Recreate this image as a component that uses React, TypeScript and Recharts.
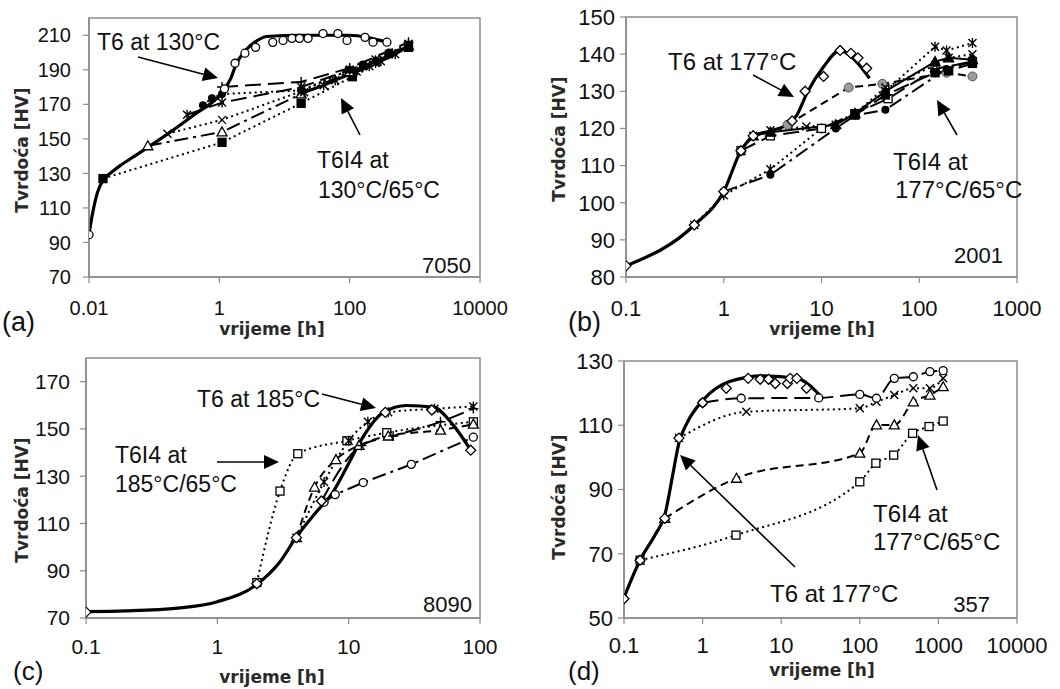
import React from "react";
import { ComposedChart, Line, XAxis, YAxis, ReferenceArea } from "recharts";

const SANS = "'Liberation Sans', Arial, sans-serif";
const BOLD = "'DejaVu Sans', Verdana, sans-serif";
const INK = "#000";
const AXIS = "#8c8c8c";

// ---------- (a) 7050, T6 at 130°C ----------
const aXTicks = [0.01, 1, 100, 10000];
const aYTicks = [70, 90, 110, 130, 150, 170, 190, 210];
const aT6CurveT = [0.01, 0.0115, 0.0135, 0.0164, 0.022, 0.03, 0.05, 0.1, 0.4, 1.1, 1.5, 1.8, 2.5, 3.5, 5.3, 17, 100, 200, 370];
const aT6CurveHv = [95, 108, 119, 126, 130.5, 134.5, 140, 147.5, 163.7, 177, 185, 193, 201, 206, 209.3, 210, 210, 208.5, 206];
const aT6MarkT = [0.01, 1.2, 1.74, 2.47, 3.6, 6.6, 9.5, 13, 17, 23, 39, 66, 91, 172, 228, 373];
const aT6MarkHv = [94.5, 179, 193.8, 199.6, 203, 205.9, 207, 208.2, 208.2, 208.2, 211, 211, 207, 208.8, 206, 206];
const aSqT = [0.0164, 1.1, 18, 110, 800];
const aSqHv = [127, 148, 170.6, 186, 203];
const aTriT = [0.08, 1.1, 18, 100, 250, 800];
const aTriHv = [146, 154, 176, 189, 195, 204];
const aXT = [0.16, 1.1, 18, 100, 250, 800];
const aXHv = [153, 161, 177.5, 190, 196, 205];
const aStarT = [0.32, 1.1, 18, 100, 160, 250, 400, 800];
const aStarHv = [164, 171, 180, 190, 192, 194, 199, 205];
const aPlusT = [1.1, 18, 100, 800];
const aPlusHv = [180, 183, 191, 206];
const aDotT = [0.56, 0.77, 1.1, 18, 100, 160, 250, 400, 800];
const aDotHv = [169.5, 173.5, 176, 178, 190, 193, 195, 200, 203];
const aBandT = [20, 40, 60, 128, 200, 300, 500, 800];
const aBandHv = [177, 181, 184, 189, 192, 195, 199, 204];

// ---------- (b) 2001, T6 at 177°C ----------
const bXTicks = [0.1, 1, 10, 100, 1000];
const bYTicks = [80, 90, 100, 110, 120, 130, 140, 150];
const bT6CurveT = [0.1, 0.5, 1, 1.5, 2, 3, 4.4, 5.6, 7.1, 10.5, 15.5, 21, 31];
const bT6CurveHv = [83, 94, 103, 114, 117.8, 119.3, 121, 123.6, 129.5, 136.6, 141, 138.9, 133.5];
const bT6MarkT = [0.1, 0.5, 1, 1.5, 2, 5, 6.8, 10.5, 15.5, 20, 23.6, 29];
const bT6MarkHv = [83, 94, 103, 114, 118, 122, 130, 134, 141, 140.2, 139, 136.2];
const bGrayT = [4.5, 19, 42, 190, 350];
const bGrayHv = [121, 131, 132, 135, 134];
const bStarT = [0.5, 1, 3, 10, 22, 45, 145, 190, 350];
const bStarHv = [94, 102, 109, 120, 124, 130, 142, 141, 143];
const bDotT = [1, 3, 14, 22, 45, 190, 350];
const bDotHv = [103, 107.5, 120, 123.5, 125, 136, 138];
const bSqT = [1.5, 3, 10, 22, 48, 145, 350];
const bSqHv = [114, 118, 120, 124, 128, 136, 138];
const bTriT = [2, 3, 14, 22, 45, 145, 200, 350];
const bTriHv = [118, 119, 121, 124, 130, 138, 139, 138.5];
const bXT = [2, 3, 7, 14, 22, 45, 145, 200, 350];
const bXHv = [118, 119.5, 120.5, 121, 124, 131, 137, 139, 140];
const bSqFillT = [22, 45, 145, 200, 350];
const bSqFillHv = [123.6, 129, 135, 135.5, 137.5];

// ---------- (c) 8090, T6 at 185°C ----------
const cXTicks = [0.1, 1, 10, 100];
const cYTicks = [70, 90, 110, 130, 150, 170];
const cT6CurveT = [0.1, 0.2, 0.5, 1, 2, 3, 4, 5.5, 7.6, 10, 12.2, 18.4, 27.6, 44, 63, 85];
const cT6CurveHv = [72.7, 73, 74.2, 76.9, 84.2, 93.8, 104.3, 114, 123.3, 135.4, 144.5, 157, 159.9, 159.2, 151.4, 141];
const cT6MarkT = [0.1, 2, 4, 6.2, 19, 43, 85];
const cT6MarkHv = [72.5, 84.5, 104, 119.5, 157, 158, 141];
const cSqT = [2, 3, 4.1, 9.7, 19.5, 89];
const cSqHv = [85, 123.7, 139.5, 145, 148.4, 153];
const cXT = [4, 6.5, 10, 14, 20, 45, 89];
const cXHv = [104, 127.5, 145, 153, 157, 158.5, 159.5];
const cTriT = [4, 5.5, 8, 12, 20, 50, 89];
const cTriHv = [104, 125.4, 137, 143, 147, 149.5, 152];
const cCircT = [6.5, 7.9, 12.9, 30, 89];
const cCircHv = [119, 122.2, 127.3, 135, 146.5];
const cPlusT = [6.2, 12.5, 21.8, 50, 89];
const cPlusHv = [119.4, 143, 147, 153, 158.6];

// ---------- (d) 357, T6 at 177°C ----------
const dXTicks = [0.1, 1, 10, 100, 1000, 10000];
const dYTicks = [50, 70, 90, 110, 130];
const dT6CurveT = [0.1, 0.16, 0.25, 0.33, 0.42, 0.5, 0.63, 1.02, 2.2, 5.9, 15.8, 31];
const dT6CurveHv = [56.4, 68, 76, 82, 95, 104.5, 110.6, 117.9, 123.6, 125.4, 124.6, 119.4];
const dT6MarkT = [0.1, 0.16, 0.33, 0.5, 1, 2, 3.8, 5.4, 6.9, 8.4, 12, 13, 15.8, 21];
const dT6MarkHv = [56, 68, 81, 106, 117, 121.5, 124.6, 124.3, 124.3, 123, 123, 124.6, 124.6, 121.5];
const dSqT = [0.16, 2.66, 100, 160, 270, 470, 760, 1150];
const dSqHv = [68, 75.8, 92.4, 98.2, 100.7, 107.5, 109.6, 111.3];
const dTriT = [0.33, 2.7, 100, 163, 275, 480, 780, 1150];
const dTriHv = [81, 93.5, 101.3, 110.1, 110.1, 117.3, 119.4, 122];
const dXT = [0.5, 3.6, 100, 163, 275, 480, 780, 1150];
const dXHv = [106, 114.2, 115.3, 117.3, 119.4, 121.5, 121.5, 124.6];
const dCircT = [1, 3.1, 30, 100, 163, 275, 480, 780, 1150];
const dCircHv = [117, 118.4, 118.5, 119.6, 118.4, 124.6, 125.1, 126.7, 127];

const DOTTED = "2 3.5";
const DASHED = "8 5";
const LONGDASH = "16 7";
const DASHDOT = "14 5 3 5";

type Kind =
  | "circle" | "circleFill" | "circleGray" | "diamond" | "diamondFill"
  | "square" | "squareFill" | "triangle" | "triangleFill" | "x" | "plus" | "star" | "none";

type Series = {
  t: number[];
  hv: number[];
  dash?: string;
  width?: number;
  marker?: Kind;
  noLine?: boolean;
  curve?: "monotone" | "linear";
};

function Marker({ cx, cy, kind }: { cx?: number; cy?: number; kind: Kind }) {
  if (cx == null || cy == null || Number.isNaN(cx) || Number.isNaN(cy)) return null;
  const sw = 1.3;
  switch (kind) {
    case "circle":
      return <circle cx={cx} cy={cy} r={4} fill="#fff" stroke={INK} strokeWidth={sw} />;
    case "circleFill":
      return <circle cx={cx} cy={cy} r={4} fill={INK} />;
    case "circleGray":
      return <circle cx={cx} cy={cy} r={4.5} fill="#9c9c9c" stroke="#555" strokeWidth={1} />;
    case "diamond":
    case "diamondFill":
      return (
        <polygon
          points={`${cx},${cy - 5} ${cx + 5},${cy} ${cx},${cy + 5} ${cx - 5},${cy}`}
          fill={kind === "diamond" ? "#fff" : "#1b1b3a"}
          stroke={INK}
          strokeWidth={sw}
        />
      );
    case "square":
    case "squareFill":
      return (
        <rect x={cx - 4} y={cy - 4} width={8} height={8}
          fill={kind === "square" ? "#fff" : INK} stroke={INK} strokeWidth={sw} />
      );
    case "triangle":
    case "triangleFill":
      return (
        <polygon
          points={`${cx},${cy - 5} ${cx + 5},${cy + 4} ${cx - 5},${cy + 4}`}
          fill={kind === "triangle" ? "#fff" : INK}
          stroke={INK}
          strokeWidth={sw}
        />
      );
    case "x":
      return <path d={`M${cx - 4},${cy - 4}L${cx + 4},${cy + 4}M${cx + 4},${cy - 4}L${cx - 4},${cy + 4}`} stroke={INK} strokeWidth={1.4} />;
    case "plus":
      return <path d={`M${cx - 5},${cy}L${cx + 5},${cy}M${cx},${cy - 5}L${cx},${cy + 5}`} stroke={INK} strokeWidth={1.4} />;
    case "star":
      return (
        <path
          d={`M${cx - 4},${cy - 4}L${cx + 4},${cy + 4}M${cx + 4},${cy - 4}L${cx - 4},${cy + 4}M${cx},${cy - 5}L${cx},${cy + 5}`}
          stroke={INK}
          strokeWidth={1.4}
        />
      );
    default:
      return null;
  }
}

type PanelProps = {
  left: number;
  top: number;
  width: number;
  height: number;
  margin: { top: number; right: number; bottom: number; left: number };
  yWidth: number;
  xHeight: number;
  xDomain: [number, number];
  xTicks: number[];
  yDomain: [number, number];
  yTicks: number[];
  fontSize: number;
  yTickMargin: number;
  xTickMargin: number;
  series: Series[];
};

function Panel(p: PanelProps) {
  const tick = { fill: "#111", fontSize: p.fontSize, fontFamily: SANS };
  return (
    <div style={{ position: "absolute", left: p.left, top: p.top }}>
      <ComposedChart width={p.width} height={p.height} margin={p.margin}>
        <XAxis
          dataKey="t"
          type="number"
          scale="log"
          domain={p.xDomain}
          ticks={p.xTicks}
          allowDataOverflow
          height={p.xHeight}
          tick={tick}
          tickSize={6}
          tickMargin={p.xTickMargin}
          axisLine={{ stroke: AXIS, strokeWidth: 1.5 }}
          tickLine={{ stroke: AXIS, strokeWidth: 1.2 }}
        />
        <YAxis
          dataKey="hv"
          type="number"
          domain={p.yDomain}
          ticks={p.yTicks}
          allowDataOverflow
          width={p.yWidth}
          tick={tick}
          tickSize={6}
          tickMargin={p.yTickMargin}
          axisLine={{ stroke: AXIS, strokeWidth: 1.5 }}
          tickLine={{ stroke: AXIS, strokeWidth: 1.2 }}
        />
        <ReferenceArea
          x1={p.xDomain[0]}
          x2={p.xDomain[1]}
          y1={p.yDomain[0]}
          y2={p.yDomain[1]}
          fill="none"
          fillOpacity={0}
          stroke={AXIS}
          strokeWidth={1.5}
          ifOverflow="visible"
        />
        {p.series.map((s, si) => {
          const rows = s.t.map((t, i) => ({ t, hv: s.hv[i] }));
          const kind = s.marker ?? "none";
          return (
            <Line
              key={si}
              data={rows}
              dataKey="hv"
              type={s.curve ?? "monotone"}
              stroke={s.noLine ? "none" : INK}
              strokeWidth={s.width ?? 2}
              strokeDasharray={s.dash}
              dot={
                kind === "none"
                  ? false
                  : (d: any) => <Marker key={`m${si}-${d.index}`} cx={d.cx} cy={d.cy} kind={kind} />
              }
              activeDot={false}
              isAnimationActive={false}
            />
          );
        })}
      </ComposedChart>
    </div>
  );
}

function Arrow({ x1, y1, x2, y2 }: { x1: number; y1: number; x2: number; y2: number }) {
  const dx = x2 - x1;
  const dy = y2 - y1;
  const len = Math.hypot(dx, dy);
  const ux = dx / len;
  const uy = dy / len;
  const hl = 15;
  const hw = 7;
  const bx = x2 - ux * hl;
  const by = y2 - uy * hl;
  return (
    <g>
      <line x1={x1} y1={y1} x2={bx} y2={by} stroke={INK} strokeWidth={1.6} />
      <polygon
        points={`${x2},${y2} ${bx - uy * hw},${by + ux * hw} ${bx + uy * hw},${by - ux * hw}`}
        fill={INK}
      />
    </g>
  );
}

function Note({ x, y, size = 23, anchor = "start", children }: any) {
  return (
    <text x={x} y={y} fontSize={size} fontFamily={SANS} fill="#111" textAnchor={anchor}>
      {children}
    </text>
  );
}

function YTitle({ x, y }: { x: number; y: number }) {
  return (
    <text
      x={x}
      y={y}
      transform={`rotate(-90 ${x} ${y})`}
      textAnchor="middle"
      dominantBaseline="central"
      fontSize={17}
      fontWeight="bold"
      fontFamily={BOLD}
      fill="#2a2a2a"
    >
      Tvrdoća [HV]
    </text>
  );
}

function XTitle({ x, y }: { x: number; y: number }) {
  return (
    <text x={x} y={y} textAnchor="middle" fontSize={17} fontWeight="bold" fontFamily={BOLD} fill="#2a2a2a">
      vrijeme [h]
    </text>
  );
}

const seriesA: Series[] = [
  { t: aSqT, hv: aSqHv, dash: DOTTED, marker: "squareFill", curve: "linear" },
  { t: aTriT, hv: aTriHv, dash: DASHDOT, marker: "triangle", curve: "linear" },
  { t: aXT, hv: aXHv, dash: DOTTED, marker: "x", curve: "linear" },
  { t: aStarT, hv: aStarHv, dash: LONGDASH, marker: "star", curve: "linear" },
  { t: aPlusT, hv: aPlusHv, dash: LONGDASH, marker: "plus", curve: "linear" },
  { t: aDotT, hv: aDotHv, dash: DOTTED, marker: "circleFill", curve: "linear" },
  { t: aBandT, hv: aBandHv, width: 3, marker: "star", curve: "linear" },
  { t: aT6CurveT, hv: aT6CurveHv, width: 3.2 },
  { t: aT6MarkT, hv: aT6MarkHv, noLine: true, marker: "circle" },
];

const seriesB: Series[] = [
  { t: bGrayT, hv: bGrayHv, dash: DASHED, marker: "circleGray", curve: "linear" },
  { t: bStarT, hv: bStarHv, dash: DOTTED, marker: "star", curve: "linear" },
  { t: bDotT, hv: bDotHv, dash: DASHDOT, marker: "circleFill", curve: "linear" },
  { t: bSqT, hv: bSqHv, dash: LONGDASH, marker: "square", curve: "linear" },
  { t: bTriT, hv: bTriHv, marker: "triangleFill", curve: "linear" },
  { t: bXT, hv: bXHv, dash: DOTTED, marker: "x", curve: "linear" },
  { t: bSqFillT, hv: bSqFillHv, dash: LONGDASH, marker: "squareFill", curve: "linear" },
  { t: bT6CurveT, hv: bT6CurveHv, width: 3.2 },
  { t: bT6MarkT, hv: bT6MarkHv, noLine: true, marker: "diamond" },
];

const seriesC: Series[] = [
  { t: cSqT, hv: cSqHv, dash: DOTTED, marker: "square" },
  { t: cXT, hv: cXHv, dash: DOTTED, marker: "star" },
  { t: cTriT, hv: cTriHv, dash: DASHED, marker: "triangle" },
  { t: cCircT, hv: cCircHv, dash: DASHDOT, marker: "circle", curve: "linear" },
  { t: cPlusT, hv: cPlusHv, dash: LONGDASH, marker: "plus" },
  { t: cT6CurveT, hv: cT6CurveHv, width: 3.2 },
  { t: cT6MarkT, hv: cT6MarkHv, noLine: true, marker: "diamond" },
];

const seriesD: Series[] = [
  { t: dSqT, hv: dSqHv, dash: DOTTED, marker: "square" },
  { t: dTriT, hv: dTriHv, dash: DASHED, marker: "triangle" },
  { t: dXT, hv: dXHv, dash: DOTTED, marker: "x" },
  { t: dCircT, hv: dCircHv, dash: LONGDASH, marker: "circle" },
  { t: dT6CurveT, hv: dT6CurveHv, width: 3.2 },
  { t: dT6MarkT, hv: dT6MarkHv, noLine: true, marker: "diamond" },
];

export default function App() {
  return (
    <div style={{ position: "absolute", left: 0, top: 0, width: 1060, height: 689, background: "#fff", overflow: "hidden" }}>
      <Panel
        left={0} top={0} width={530} height={345}
        margin={{ top: 18, right: 50, bottom: 0, left: 0 }}
        yWidth={89} xHeight={68}
        xDomain={[0.01, 10000]} xTicks={aXTicks}
        yDomain={[70, 220]} yTicks={aYTicks}
        fontSize={20} yTickMargin={12} xTickMargin={18}
        series={seriesA}
      />
      <Panel
        left={530} top={0} width={530} height={345}
        margin={{ top: 17, right: 43, bottom: 0, left: 0 }}
        yWidth={96} xHeight={68}
        xDomain={[0.1, 1000]} xTicks={bXTicks}
        yDomain={[80, 150]} yTicks={bYTicks}
        fontSize={22} yTickMargin={5} xTickMargin={17}
        series={seriesB}
      />
      <Panel
        left={0} top={345} width={530} height={344}
        margin={{ top: 13, right: 50, bottom: 0, left: 0 }}
        yWidth={86} xHeight={71}
        xDomain={[0.1, 100]} xTicks={cXTicks}
        yDomain={[70, 180]} yTicks={cYTicks}
        fontSize={21} yTickMargin={10} xTickMargin={15}
        series={seriesC}
      />
      <Panel
        left={530} top={345} width={530} height={344}
        margin={{ top: 16, right: 43, bottom: 0, left: 0 }}
        yWidth={94} xHeight={71}
        xDomain={[0.1, 10000]} xTicks={dXTicks}
        yDomain={[50, 130]} yTicks={dYTicks}
        fontSize={22} yTickMargin={5} xTickMargin={13}
        series={seriesD}
      />
      <svg width={1060} height={689} style={{ position: "absolute", left: 0, top: 0, pointerEvents: "none" }}>
        {/* (a) */}
        <Note x={97} y={50}>T6 at 130°C</Note>
        <Arrow x1={138} y1={57} x2={218} y2={78} />
        <Note x={317} y={168}>T6I4 at</Note>
        <Note x={318} y={198}>130°C/65°C</Note>
        <Arrow x1={360} y1={135} x2={341} y2={98} />
        <Note x={471} y={273} size={22} anchor="end">7050</Note>
        <Note x={2} y={331} size={27}>(a)</Note>
        <YTitle x={22} y={150} />
        <XTitle x={272} y={335} />
        {/* (b) */}
        <Note x={668} y={70} size={24}>T6 at 177°C</Note>
        <Arrow x1={753} y1={75} x2={794} y2={97} />
        <Note x={893} y={170} size={24}>T6I4 at</Note>
        <Note x={895} y={198} size={24}>177°C/65°C</Note>
        <Arrow x1={957} y1={135} x2={937} y2={100} />
        <Note x={1003} y={263} size={22} anchor="end">2001</Note>
        <Note x={568} y={331} size={27}>(b)</Note>
        <YTitle x={559} y={139} />
        <XTitle x={822} y={335} />
        {/* (c) */}
        <Note x={197} y={407}>T6 at 185°C</Note>
        <Arrow x1={322} y1={394} x2={376} y2={408} />
        <Note x={115} y={463}>T6I4 at</Note>
        <Note x={115} y={492}>185°C/65°C</Note>
        <Arrow x1={217} y1={462} x2={279} y2={462} />
        <Note x={472} y={612} size={22} anchor="end">8090</Note>
        <Note x={13} y={680} size={26}>(c)</Note>
        <YTitle x={22} y={500} />
        <XTitle x={272} y={683} />
        {/* (d) */}
        <Note x={770} y={602} size={24}>T6 at 177°C</Note>
        <Arrow x1={795} y1={567} x2={680} y2={455} />
        <Note x={873} y={522} size={24}>T6I4 at</Note>
        <Note x={873} y={550} size={24}>177°C/65°C</Note>
        <Arrow x1={937} y1={490} x2={918} y2={435} />
        <Note x={990} y={612} size={22} anchor="end">357</Note>
        <Note x={568} y={680} size={26}>(d)</Note>
        <YTitle x={559} y={497} />
        <XTitle x={822} y={676} />
      </svg>
    </div>
  );
}
